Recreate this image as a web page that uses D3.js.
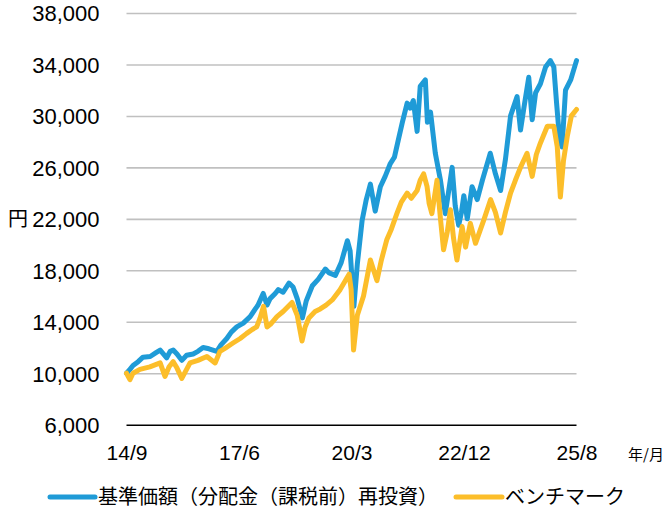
<!DOCTYPE html>
<html><head><meta charset="utf-8">
<script src="https://cdn.jsdelivr.net/npm/d3@7"></script>
<style>
html,body{margin:0;padding:0;background:#fff;}
svg{display:block;}
</style></head>
<body>
<svg id="chart" width="666" height="513"></svg>
<script>
// ---- data (months since 2014/9) ----
const xTickLabels = ["14/9", "17/6", "20/3", "22/12", "25/8"];
const yTicks = [6000, 10000, 14000, 18000, 22000, 26000, 30000, 34000, 38000];
const seriesNames = ["基準価額（分配金（課税前）再投資）", "ベンチマーク"];

const fundMonths = [0,1.0,1.9,3.4,4.8,6.9,8.6,9.8,11.7,12.7,13.6,14.7,16.1,17.5,19.4,20.8,22.3,24.0,26.3,27.5,29.2,30.5,32.1,34.0,36.0,37.5,38.3,39.8,40.9,41.8,43.3,44.2,45.6,47.3,48.5,49.7,51.2,52.3,54.1,55.8,57.9,59.0,60.8,62.5,64.3,65.1,66.2,67.2,68.6,69.8,71.0,72.4,73.9,75.3,76.8,78.0,79.1,80.3,81.7,82.6,83.5,84.6,85.5,87.0,87.6,88.5,89.9,91.4,92.8,93.7,94.8,95.7,96.7,97.5,98.2,99.2,100.6,102.1,103.6,105.9,107.4,108.9,110.3,111.8,113.7,114.7,115.9,117.1,118.1,119.1,120.5,122.0,123.4,124.4,125.2,126.1,126.8,127.8,129.3,130.1,131];
const fundValues = [10000,10300,10600,10900,11250,11300,11600,11800,11200,11700,11800,11500,11000,11400,11500,11700,12000,11900,11700,12200,12700,13200,13600,13900,14400,15000,15300,16200,15300,15800,16200,16500,16300,17000,16700,15800,14300,15600,16800,17300,18100,17800,17600,18600,20300,19500,15200,18500,21900,23500,24700,22600,24500,25300,26300,26800,28100,29500,31000,30600,31200,28800,32300,32800,29500,30300,27100,25000,22400,24000,26000,23000,21500,22500,23800,22000,24500,23500,25000,27100,25500,24200,26600,30000,31500,28900,31000,33000,29700,31800,32500,33800,34300,33800,31000,28100,27600,32000,32800,33500,34300];

const benchMonths = [0,1.0,1.9,3.9,6.8,9.8,11.2,12.4,13.6,14.7,16.1,17.3,18.5,20.8,23.4,25.8,27.2,29.0,31.0,33.1,35.0,36.6,37.9,38.9,39.9,40.9,41.9,43.8,45.6,48.2,49.7,51.1,52.0,53.1,54.9,56.4,58.1,59.9,62.2,64.8,65.4,66.1,67.2,69.0,71.0,72.9,74.2,75.8,77.1,78.7,80.0,81.7,82.9,84.6,85.5,86.5,87.5,88.1,88.9,90.4,91.4,92.3,93.4,94.3,95.2,96.2,97.7,98.7,100.1,101.6,104.0,106.0,107.4,108.9,110.3,111.8,113.2,114.7,116.6,118.1,119.3,120.5,122.5,124.4,125.4,126.3,127.2,128.3,129.5,131];
const benchValues = [10000,9500,10000,10300,10500,10800,9750,10500,10900,10400,9600,10200,10800,11000,11300,10800,11700,12000,12350,12700,13100,13400,13600,14300,15200,13600,13800,14400,14800,15500,14500,12500,13600,14300,14800,15000,15300,15700,16500,17700,16500,11800,14500,16000,18800,17200,18800,20400,21200,22400,23300,24000,23600,24200,25000,25500,24500,23200,22400,25000,22000,19600,21000,22700,20500,18800,21400,19800,21650,20100,21900,23500,22500,20900,22500,24000,25000,26000,27100,25300,27000,27900,29200,29200,27600,23700,26500,28400,30000,30500];

const totalMonths = 131;

(function () {
// ---- layout ----
const svg = d3.select("#chart");
const pLeft = 126.5, pRight = 576.5, pTop = 13, pBottom = 424.7;
const x = d3.scaleLinear().domain([0, totalMonths]).range([pLeft, pRight]);
const y = d3.scaleLinear().domain([6000, 38000]).range([pBottom, pTop]);

const latin = "'Liberation Sans', Arial, sans-serif";
const cjk = "'Noto Sans CJK JP', 'Liberation Sans', sans-serif";

// gridlines
const yAxis = d3.axisLeft(y).tickValues(yTicks).tickSize(-(pRight - pLeft)).tickFormat(d3.format(","));
const gy = svg.append("g").attr("transform", `translate(${pLeft},0)`).call(yAxis);
gy.select(".domain").remove();
gy.selectAll(".tick line").attr("stroke", "#c0c0c0").attr("stroke-width", 1.6)
  .filter(d => d === 6000).attr("stroke", "#000").attr("stroke-width", 1.6);
gy.selectAll(".tick text").attr("x", -27).attr("dy", "0.36em")
  .attr("font-family", latin).attr("font-size", 22).attr("fill", "#000");

// unit label
svg.append("text").attr("x", 8).attr("y", y(22000)).attr("dy", "0.36em")
  .attr("font-family", cjk).attr("font-size", 20).attr("fill", "#000").text("円");

// x axis labels
const xTickVals = xTickLabels.map((d, i) => i * totalMonths / (xTickLabels.length - 1));
const xAxis = d3.axisBottom(x).tickValues(xTickVals).tickSize(0)
  .tickFormat((d, i) => xTickLabels[i]);
const gx = svg.append("g").attr("transform", `translate(0,${pBottom})`).call(xAxis);
gx.select(".domain").remove();
gx.selectAll(".tick text").attr("y", 0).attr("dy", "35px")
  .attr("font-family", latin).attr("font-size", 21).attr("fill", "#000");

svg.append("text").attr("x", 628).attr("y", 460)
  .attr("font-family", cjk).attr("font-size", 15).attr("fill", "#000").text("年/月");

// lines
const line = d3.line().x(d => x(d[0])).y(d => y(d[1])).curve(d3.curveLinear);
const fund = fundMonths.map((m, i) => [m, fundValues[i]]);
const bench = benchMonths.map((m, i) => [m, benchValues[i]]);
const colors = ["#1f9bd7", "#fcbe2a"];

svg.append("path").datum(fund).attr("d", line).attr("fill", "none")
  .attr("stroke", colors[0]).attr("stroke-width", 5)
  .attr("stroke-linejoin", "round").attr("stroke-linecap", "round");
svg.append("path").datum(bench).attr("d", line).attr("fill", "none")
  .attr("stroke", colors[1]).attr("stroke-width", 5)
  .attr("stroke-linejoin", "round").attr("stroke-linecap", "round");

// legend
const legendItems = [
  { name: seriesNames[0], color: colors[0], x0: 50, x1: 95, tx: 98 },
  { name: seriesNames[1], color: colors[1], x0: 456, x1: 502, tx: 505 }
];
const lg = svg.append("g");
legendItems.forEach(it => {
  lg.append("line").attr("x1", it.x0).attr("x2", it.x1).attr("y1", 497).attr("y2", 497)
    .attr("stroke", it.color).attr("stroke-width", 5).attr("stroke-linecap", "round");
  lg.append("text").attr("x", it.tx).attr("y", 497).attr("dy", "0.36em")
    .attr("font-family", cjk).attr("font-size", 20).attr("fill", "#000").text(it.name);
});
})();
</script>
</body></html>
